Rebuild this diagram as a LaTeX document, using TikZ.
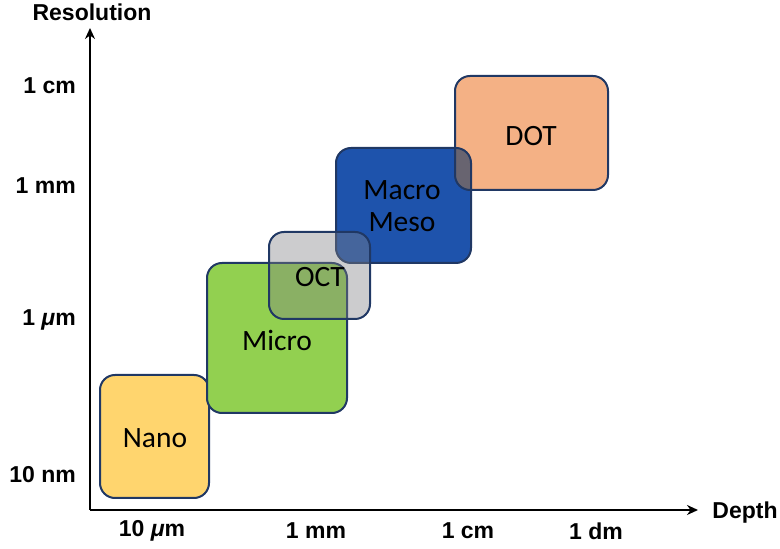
\documentclass[tikz,border=0pt]{standalone}
\usepackage{fontspec}
\setmainfont{Liberation Sans}
\newfontfamily\boxfont{Carlito}
\usetikzlibrary{arrows.meta}
\definecolor{bordc}{RGB}{32,56,100}
\definecolor{nanoc}{RGB}{255,213,110}
\definecolor{microc}{RGB}{146,208,80}
\definecolor{macroc}{RGB}{30,83,172}
\definecolor{dotc}{RGB}{244,177,133}
\definecolor{octc}{RGB}{128,128,132}
\definecolor{ovlc}{RGB}{104,100,112}
\newcommand{\mymu}{{\itshape μ}}
\tikzset{
  axis/.style={line width=2.6pt,-{Stealth[length=11pt,width=10pt]}},
  axlab/.style={font=\fontsize{23}{25}\selectfont\bfseries,inner sep=0pt},
  boxc/.style={draw=bordc,line width=2pt,rounded corners=15pt},
  boxlab/.style={font=\boxfont\fontsize{29.5}{33}\selectfont,inner sep=0pt,align=center}
}
\begin{document}
\begin{tikzpicture}[x=1pt,y=1pt]
\useasboundingbox (0,0) rectangle (780,549);
% boxes
\fill[nanoc,rounded corners=15pt] (100,51) rectangle (209,174);
\draw[boxc] (100,51) rectangle (209,174);
\fill[microc,rounded corners=15pt] (207,136) rectangle (347,286);
\draw[boxc] (207,136) rectangle (347,286);
\fill[macroc,rounded corners=15pt] (336,286) rectangle (471,401);
\fill[dotc,rounded corners=15pt] (455,359) rectangle (608,473);
\begin{scope}
  \clip[rounded corners=15pt] (336,286) rectangle (471,401);
  \fill[ovlc,rounded corners=15pt] (455,359) rectangle (608,473);
\end{scope}
\draw[boxc] (336,286) rectangle (471,401);
\draw[boxc] (455,359) rectangle (608,473);
\fill[octc,fill opacity=0.4,rounded corners=15pt] (269,230) rectangle (370,317);
\draw[boxc] (269,230) rectangle (370,317);
% box labels
\node[boxlab] (nano) at (155,111) {Nano};
\node[boxlab] (micro) at (277,209) {Micro};
\node[boxlab] (oct) at (320,272) {OCT};
\node[boxlab] (macro) at (402,343) {Macro\\[-1pt]Meso};
\node[boxlab] (dot) at (531,413) {DOT};
% axes
\coordinate (o) at (90,39);
\coordinate (ytop) at (90,521);
\coordinate (xend) at (698,39);
\draw[axis] (o) -- (ytop);
\draw[axis] (o) -- (xend);
\node[axlab] (res) at (92,537) {Resolution};
\node[axlab] (depth) at (745,36) {Depth};
% y ticks
\node[axlab,anchor=east] (y1) at (76,463) {1 cm};
\node[axlab,anchor=east] (y2) at (76,363) {1 mm};
\node[axlab,anchor=east] (y3) at (76,229) {1 \mymu m};
\node[axlab,anchor=east] (y4) at (76,74) {10 nm};
% x ticks
\node[axlab] (x1) at (152,18) {10 \mymu m};
\node[axlab] (x2) at (316,18) {1 mm};
\node[axlab] (x3) at (468,18) {1 cm};
\node[axlab] (x4) at (596,18) {1 dm};
\end{tikzpicture}
\end{document}
